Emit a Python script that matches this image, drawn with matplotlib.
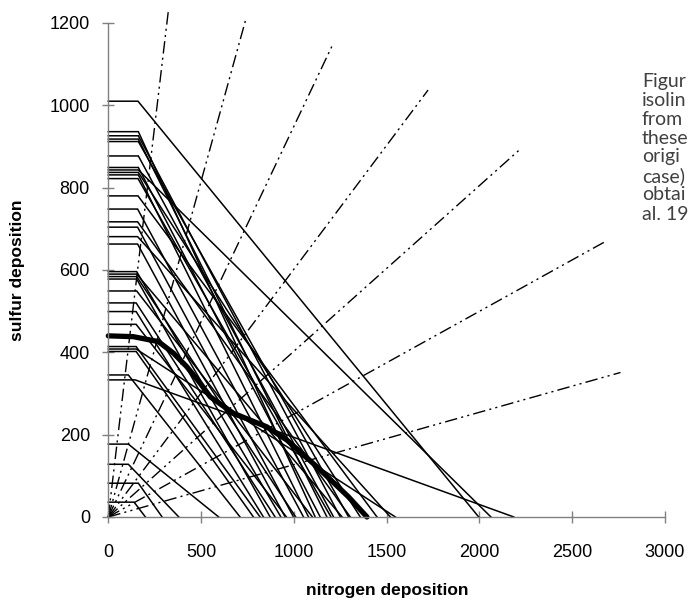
import matplotlib
matplotlib.use('Agg')
import matplotlib.pyplot as plt

# critical load functions: (0, smax) -> (nmin, smax) -> (nmax, 0)
clf_smax = [1010, 936, 926, 918, 912, 877, 849, 843, 837, 831, 822, 780,
            748, 717, 704, 681, 663, 596, 590, 584, 578, 549, 520, 499,
            468, 414, 408, 402, 345, 333, 177, 128, 82, 36]
clf_nmin = [160, 162, 162, 162, 162, 162, 162, 162, 162, 162, 160, 160,
            158, 158, 158, 158, 158, 153, 153, 153, 153, 153, 150, 150,
            150, 150, 150, 150, 108, 145, 108, 108, 162, 139]
clf_nmax = [1996, 1115, 1250, 1178, 1295, 1214, 1142, 2062, 1358, 1079, 1200, 1448,
            1052, 1304, 998, 1520, 953, 930, 1260, 1010, 872, 1100, 899, 836,
            960, 818, 1547, 782, 710, 2185, 595, 380, 290, 200]

# percentile isoline
iso_n = [0, 135, 270, 351, 423, 495, 549, 674, 854, 962, 1124, 1294, 1394]
iso_s = [440, 438, 426, 398, 365, 325, 292, 252, 219, 187, 122, 49, 0]

# end points of the deposition rays from the origin
ray_n = [324, 741, 1214, 1723, 2211, 2670, 2760]
ray_s = [1231, 1209, 1152, 1037, 890, 667, 351]

x_ticks = [0, 500, 1000, 1500, 2000, 2500, 3000]
y_ticks = [0, 200, 400, 600, 800, 1000, 1200]

note_lines = ['Figur', 'isolin', 'from', 'these', 'origi',
              'case)', 'obtai', 'al. 19']

fig = plt.figure(figsize=(6.88, 6.05), dpi=100)
ax = fig.add_axes([0.1574, 0.1455, 0.8092, 0.8165])

for smax, nmin, nmax in zip(clf_smax, clf_nmin, clf_nmax):
    ax.plot([0, nmin, nmax], [smax, smax, 0], color='black', lw=1.1,
            solid_joinstyle='miter', clip_on=False)

for n, s in zip(ray_n, ray_s):
    ax.plot([0, n], [0, s], color='black', lw=1.0,
            dashes=(9, 3, 1.5, 3, 1.5, 3), clip_on=False)

ax.plot(iso_n, iso_s, color='black', lw=3.8, solid_capstyle='round',
        clip_on=False)

ax.set_xlim(0, 3000)
ax.set_ylim(0, 1200)
ax.set_xticks(x_ticks)
ax.set_yticks(y_ticks)
for side in ['top', 'right']:
    ax.spines[side].set_visible(False)
for side in ['left', 'bottom']:
    ax.spines[side].set_color('#808080')
    ax.spines[side].set_linewidth(1.0)
ax.tick_params(direction='inout', length=8.5, width=1.0, color='#808080',
               labelsize=13)
for lab in ax.get_xticklabels() + ax.get_yticklabels():
    lab.set_family('Liberation Sans')
ax.tick_params(axis='x', pad=15)
ax.tick_params(axis='y', pad=9)

fig.text(0.563, 1 - 590 / 605, 'nitrogen deposition', ha='center', va='center',
         family='Liberation Sans', weight='bold', fontsize=12.5)
fig.text(0.025, 0.554, 'sulfur deposition', ha='center', va='center',
         rotation=90, family='Liberation Sans', weight='bold', fontsize=12.5)

for i, line in enumerate(note_lines):
    fig.text(642 / 688, 1 - (81 + 19 * i) / 605, line, ha='left', va='center',
             family='Lato', fontsize=14, color='#404040')

fig.savefig('out.png', dpi=100)
